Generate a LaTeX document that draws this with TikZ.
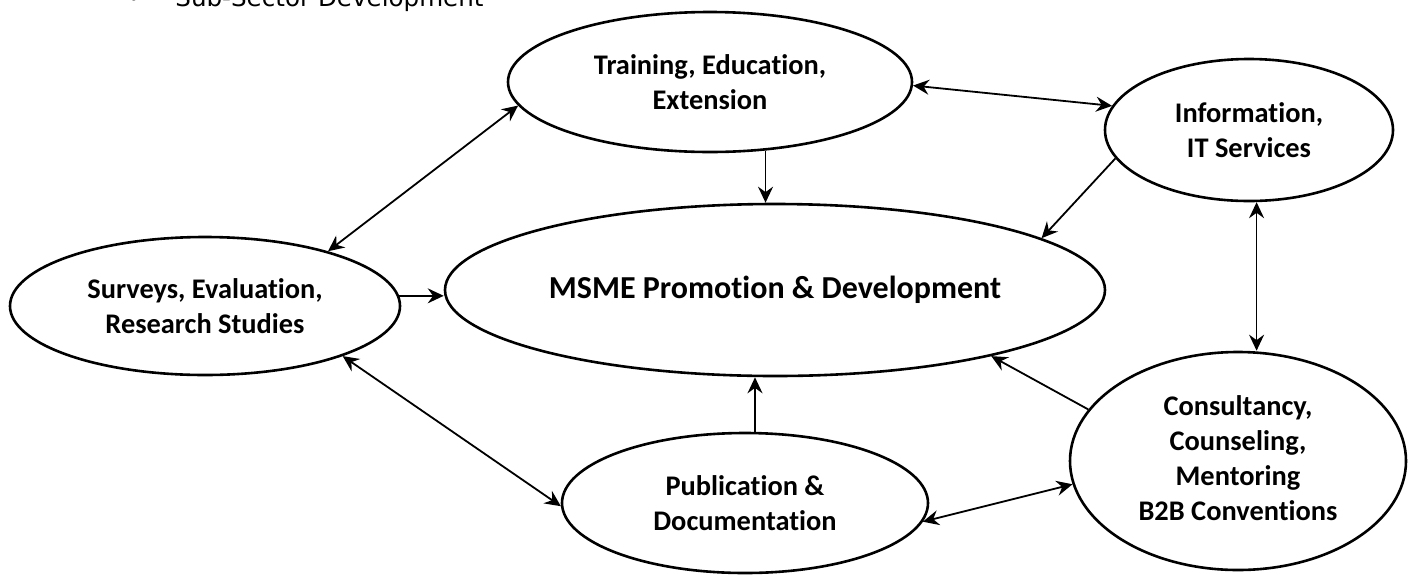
\documentclass[tikz,border=0pt]{standalone}
\usepackage{fontspec}
\setmainfont{Carlito}[Ligatures=NoCommon]
\newfontfamily\listfont{DejaVu Sans}
\usetikzlibrary{arrows.meta,shapes.geometric}

\begin{document}
\begin{tikzpicture}[x=0.5pt,y=-0.5pt,>={Stealth[length=8pt,width=7.5pt,inset=2.7pt]}]
            \useasboundingbox (0,0) rectangle (1408,574);

            % bullet line cut by the top edge
            \node[font=\listfont\fontsize{12.3}{15}\selectfont,anchor=base,inner sep=0pt] (dot) at (134,6) {•};
            \node[font=\listfont\fontsize{12.3}{15}\selectfont,anchor=base west,inner sep=0pt] (subsector) at (175,6) {Sub-Sector Development};

            \begin{scope}[every node/.style={ellipse,draw,line width=1.3pt,inner sep=0pt,align=center,font=\bfseries\fontsize{14.2}{17.5}\selectfont}]
                \node[minimum width=202pt,minimum height=70pt] (train) at (710,82) {Training, Education,\\Extension};
                \node[minimum width=144pt,minimum height=71pt] (info) at (1249,130) {Information,\\IT Services};
                \node[minimum width=195pt,minimum height=69pt] (survey) at (205,306) {Surveys, Evaluation,\\Research Studies};
                \node[minimum width=330pt,minimum height=86pt,font=\bfseries\fontsize{16}{20}\selectfont] (msme) at (775,290) {MSME Promotion \& Development};
                \node[minimum width=183pt,minimum height=70pt] (pub) at (745,503) {Publication \&\\Documentation};
                \node[minimum width=168pt,minimum height=109pt] (consult) at (1238,461) {\raisebox{-3.5pt}{\begin{tabular}{@{}c@{}}Consultancy,\\Counseling,\\Mentoring\\B2B Conventions\end{tabular}}};
            \end{scope}

            \begin{scope}[line width=0.9pt]
                \path [<->] (survey.24) edge (train.187);
                \path [<->] (train.-1) edge (info.170);
                \path [->] (train.309) edge (train.309 |- msme.north);
                \path [->] (info.192) edge (msme.11);
                \path [<->] (info.276) edge (info.276 |- consult.north);
                \path [->] (survey.3) edge (survey.3 -| msme.west);
                \path [<->] (survey.340) edge (pub.181);
                \path [->] (pub.82) edge (pub.82 |- msme.south);
                \path [->] (consult.161) edge (msme.343);
                \path [<->] (pub.354) edge (consult.188);
            \end{scope}
            \end{tikzpicture}
\end{document}
